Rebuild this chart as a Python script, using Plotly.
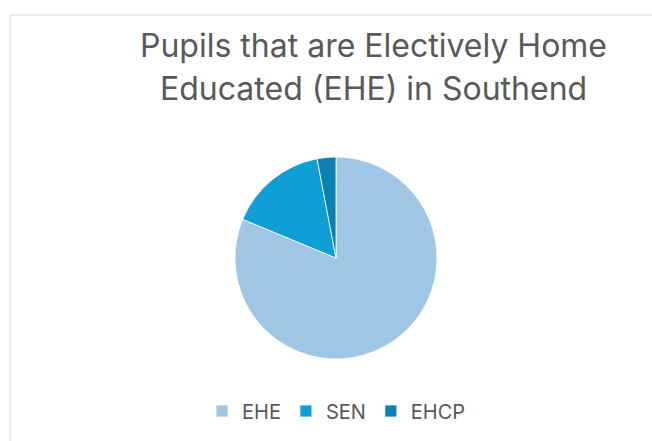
import plotly.graph_objects as go

W, H = 652, 441

# Pupil counts by category
categories = ["EHE", "SEN", "EHCP"]
pupils = [325, 63, 12]
slice_colors = ["#A0C6E6", "#0F9ED6", "#0C80AF"]

title_lines = ["Pupils that are Electively Home", "Educated (EHE) in Southend"]
title_line_y = [45.5, 88.5]  # pixel centres of the two title lines

# pie geometry in pixels
cx, cy, r = 336, 258, 101

fig = go.Figure(
    go.Pie(
        labels=categories,
        values=pupils,
        sort=False,
        direction="clockwise",
        rotation=0,
        textinfo="none",
        hoverinfo="label+value+percent",
        marker=dict(colors=slice_colors, line=dict(color="white", width=0.8)),
        domain=dict(
            x=[(cx - r) / W, (cx + r) / W],
            y=[(H - cy - r) / H, (H - cy + r) / H],
        ),
    )
)

title_annotations = [
    dict(
        text=line,
        x=373 / W,
        y=(H - ypix) / H,
        xref="paper",
        yref="paper",
        xanchor="center",
        yanchor="middle",
        showarrow=False,
        font=dict(size=32, color="#595959", family="Inter"),
    )
    for line, ypix in zip(title_lines, title_line_y)
]

fig.update_layout(
    width=W,
    height=H,
    margin=dict(l=0, r=0, t=0, b=0),
    paper_bgcolor="white",
    plot_bgcolor="white",
    font=dict(family="Inter", color="#595959"),
    showlegend=True,
    legend=dict(
        orientation="h",
        x=202 / W,
        y=(H - 411) / H,
        xanchor="left",
        yanchor="middle",
        font=dict(size=20, color="#595959"),
        itemclick=False,
    ),
    annotations=title_annotations,
    shapes=[
        dict(
            type="rect",
            xref="paper",
            yref="paper",
            x0=10 / W,
            x1=1.2,
            y0=-0.2,
            y1=(H - 15) / H,
            line=dict(color="#D9D9D9", width=1),
            fillcolor="rgba(0,0,0,0)",
            layer="below",
        )
    ],
)

fig.write_html("out.html")
